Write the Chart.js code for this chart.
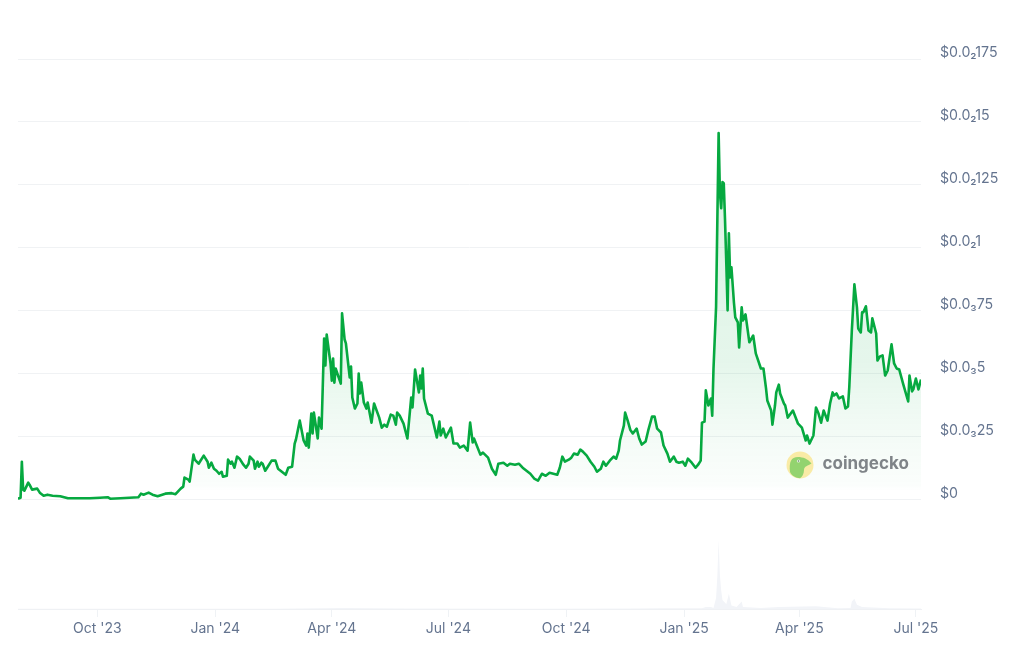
<!DOCTYPE html>
<html><head><meta charset="utf-8">
<script src="https://cdn.jsdelivr.net/npm/chart.js@4"></script>
<style>html,body{margin:0;padding:0;background:#fff}#w{width:1024px;height:656px}</style>
</head><body><div id="w"><canvas id="c" width="1024" height="656"></canvas></div>
<script>
// Days since 31 Jul 2023
const priceDays=[0,2,3,4,5,8,9,11,15,17,20,23,27,33,39,56,64,70,72,80,94,96,98,102,105,109,115,120,123,127,129,130,133,134,137,138,141,142,145,148,149,151,153,155,157,159,160,163,164,166,167,169,171,173,176,178,180,181,184,185,187,188,190,191,193,195,198,201,203,206,209,211,214,216,217,220,223,225,226,227,229,230,231,234,235,237,239,240,241,244,245,246,247,248,252,253,255,256,259,260,261,263,265,266,267,268,270,272,273,276,278,282,284,286,288,291,293,295,296,298,301,304,307,308,310,313,314,315,316,317,320,323,327,329,330,332,334,338,340,343,345,348,351,353,355,356,361,363,367,370,373,375,379,382,384,388,391,394,397,400,403,406,409,412,415,418,421,423,425,427,430,432,434,437,439,441,444,447,450,452,455,457,459,462,465,467,469,470,473,474,476,478,480,483,485,487,490,492,495,497,499,502,504,507,509,512,514,516,519,521,523,526,529,531,533,534,536,537,539,541,542,543,545,546,547,548,549,550,551,552,553,554,555,556,557,559,560,562,563,565,566,568,571,574,576,580,582,584,585,588,589,591,592,594,595,598,599,601,605,609,612,615,616,618,621,623,625,627,629,632,634,636,637,639,641,644,646,648,649,651,653,655,656,658,659,660,662,664,666,667,670,671,673,675,677,679,682,684,686,688,691,695,696,698,699,701,703,705];
// Price in millionths of a dollar
const priceMicro=[4,8,151,40,36,68,60,40,44,28,16,20,16,14,6,6,8,10,4,6,10,24,20,28,20,14,24,26,22,44,52,88,80,72,179,159,143,151,175,151,127,147,123,115,103,111,91,95,159,143,151,127,171,163,139,127,143,171,155,123,151,131,147,143,115,131,155,155,123,111,99,127,131,223,239,314,235,215,263,207,342,263,346,243,326,282,640,533,656,541,473,561,465,521,461,740,636,621,485,529,406,362,382,501,422,465,386,362,386,306,382,326,286,298,290,338,334,298,346,334,302,243,406,366,517,426,493,442,521,402,342,334,247,310,255,282,247,286,223,223,207,215,195,306,227,243,179,187,167,123,99,143,147,135,143,139,143,127,115,103,84,76,103,95,107,103,99,127,171,151,159,167,183,179,199,191,175,151,131,111,123,151,135,155,171,163,195,235,294,346,314,278,263,282,243,219,231,274,330,330,282,267,215,183,151,171,151,147,151,135,163,147,127,139,155,306,310,434,374,402,334,521,764,1110,1456,1217,1158,1261,1257,1110,939,752,1058,883,923,780,724,704,605,764,712,736,625,652,581,521,521,442,394,354,298,374,426,457,422,382,374,326,354,302,286,235,255,223,255,366,342,306,354,314,382,426,414,422,402,410,362,370,446,672,855,764,680,664,744,744,768,672,664,720,660,553,569,573,493,513,617,541,521,517,461,390,493,430,438,481,438,477];
const volumeDays=[0,100,130,200,235,254,300,400,480,500,534,537,541,543,545,546,547,548,549,550,552,553,555,557,561,565,566,580,594,623,640,650,651,653,655,659,680,705];
const volumeMillions=[0.5,0.3,0.5,0.5,1,1.5,0.8,0.5,0.8,1,1,3,3,1.5,16,48,100,49,27,13,9,7,22,5,3,11,3,1.5,3,4,1,1.5,11,15,6,3,1,0.8];
const xTickDays=[62,154,245,336,428,520,610,701];
const xTickLabels=["Oct '23","Jan '24","Apr '24","Jul '24","Oct '24","Jan '25","Apr '25","Jul '25"];
const yTickMicro=[0,250,500,750,1000,1250,1500,1750];
const yTickLabels=["$0","$0.0₃25","$0.0₃5","$0.0₃75","$0.0₂1","$0.0₂125","$0.0₂15","$0.0₂175"];

const GREEN='#06a940', TICK='#64748f', GRID='#f0f2f4';
const FONT='Inter, sans-serif';

function areaFill(ctx){
  const chart=ctx.chart, s=chart.scales.y;
  if(!s||!chart.chartArea) return 'rgba(0,168,62,0.08)';
  const top=s.getPixelForValue(Math.max(...priceMicro)), bot=s.getPixelForValue(0);
  const g=chart.ctx.createLinearGradient(0,top,0,bot);
  g.addColorStop(0,'rgba(0,168,62,0.14)');
  g.addColorStop(0.62,'rgba(0,168,62,0.10)');
  g.addColorStop(0.8,'rgba(0,168,62,0.05)');
  g.addColorStop(0.96,'rgba(0,168,62,0.015)');
  g.addColorStop(0.975,'rgba(0,168,62,0)');
  return g;
}

const logo={id:'logo',afterDraw(chart){
  const c=chart.ctx; c.save();
  c.fillStyle='#f9eba6'; c.beginPath(); c.arc(800,465,13.5,0,Math.PI*2); c.fill();
  c.fillStyle='#93d36f'; c.beginPath();
  c.moveTo(790,472); c.bezierCurveTo(789,462,791,457,798,457);
  c.bezierCurveTo(803,457,808,459,811.5,463.5);
  c.bezierCurveTo(808,466,804,466,804,470);
  c.bezierCurveTo(804,474,802,477,800,478.3);
  c.bezierCurveTo(796,478,792,476,790,472); c.closePath(); c.fill();
  c.fillStyle='#e4efe0'; c.beginPath(); c.arc(798.5,461,1.6,0,Math.PI*2); c.fill();
  c.fillStyle='#5f7f60'; c.beginPath(); c.arc(798.5,461,.7,0,Math.PI*2); c.fill();
  c.fillStyle='#7f8488'; c.font='700 17px Inter, sans-serif'; c.textBaseline='alphabetic'; c.textAlign='left';
  c.fillText('coingecko',822.5,469);
  c.restore();
}};

new Chart(document.getElementById('c'),{
  data:{datasets:[
    {type:'line',label:'Price',yAxisID:'y',xAxisID:'x',order:1,
     data:priceDays.map((d,i)=>({x:d,y:priceMicro[i]})),
     borderColor:GREEN,borderWidth:2.6,pointRadius:0,tension:0,borderJoinStyle:'round',
     fill:{value:0},backgroundColor:areaFill},
    {type:'line',label:'Volume',yAxisID:'yVol',xAxisID:'x',order:2,
     data:volumeDays.map((d,i)=>({x:d,y:volumeMillions[i]})),
     borderWidth:0,pointRadius:0,tension:0,
     fill:'origin',backgroundColor:'#f2f4f8'}
  ]},
  options:{
    responsive:false,animation:false,devicePixelRatio:1,
    layout:{padding:{left:18,top:59,right:0,bottom:0}},
    plugins:{legend:{display:false},tooltip:{enabled:false}},
    scales:{
      x:{type:'linear',min:0,max:705,
        afterBuildTicks(a){a.ticks=xTickDays.map(v=>({value:v}));},
        afterFit(a){a.height=47;},
        border:{color:'#eff1f4',width:1},
        grid:{drawOnChartArea:false,drawTicks:true,tickLength:8,color:'#eff2f5'},
        ticks:{autoSkip:false,maxRotation:0,padding:3,color:TICK,font:{family:FONT,size:14},
          callback(v){const i=xTickDays.indexOf(v);return i<0?'':xTickLabels[i];}}},
      y:{type:'linear',position:'right',min:-434,max:1750,
        afterBuildTicks(a){a.ticks=yTickMicro.map(v=>({value:v}));},
        afterFit(a){a.width=103;},
        border:{display:false},
        grid:{color:GRID,drawTicks:false,lineWidth:1},
        ticks:{autoSkip:false,padding:19,labelOffset:-6,color:TICK,font:{family:FONT,size:14.2},
          callback(v){const i=yTickMicro.indexOf(v);return i<0?'':yTickLabels[i];}}},
      yVol:{type:'linear',display:false,min:0,max:797}
    }
  },
  plugins:[logo]
});
</script></body></html>
